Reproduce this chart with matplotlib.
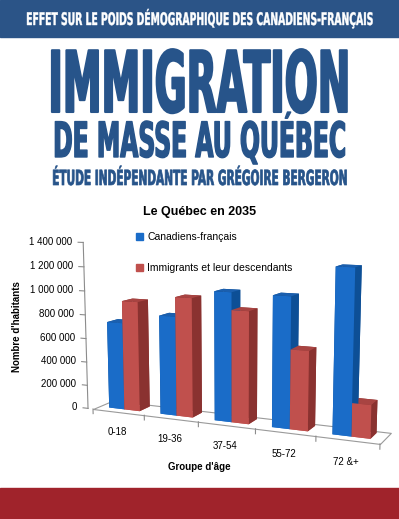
import matplotlib.pyplot as plt
import numpy as np
from matplotlib.patches import Rectangle, Patch
from matplotlib.patheffects import AbstractPathEffect
from matplotlib.transforms import Affine2D
from mpl_toolkits.mplot3d import proj3d
from mpl_toolkits.mplot3d.art3d import Poly3DCollection

# data (perspective corrected)
groups = ['0-18', '19-36', '37-54', '55-72', '72 &+']
canadiens = [735000, 820000, 1045000, 1040000, 1280000]
immigrants = [920000, 980000, 905000, 630000, 260000]
series = ['Canadiens-français', 'Immigrants et leur descendants']
zticks = np.arange(0, 1400001, 200000)

W, H = 399, 519
navy = '#27548a'
# face colours per bar: bottom, top, front, back, left, right
blue_faces = ['#1a6cc8', '#1b5fae', '#1a6cc8', '#0d4f96', '#0d4f96', '#0d4f96']
red_faces = ['#c0504d', '#a84442', '#c0504d', '#8a3230', '#8a3230', '#8a3230']

plt.rcParams['font.family'] = ['Liberation Sans', 'DejaVu Sans']


class Stretch(AbstractPathEffect):
    # stretches a text upwards from its baseline, to mimic a condensed display font
    def __init__(self, sy, lw=0):
        super().__init__()
        self.sy = sy
        self.lw = lw

    def draw_path(self, renderer, gc, tpath, affine, rgbFace=None):
        aff = Affine2D().scale(1, self.sy) + affine
        if self.lw:
            gc0 = renderer.new_gc()
            gc0.copy_properties(gc)
            gc0.set_linewidth(self.lw)
            gc0.set_foreground(rgbFace)
            renderer.draw_path(gc0, tpath, aff, rgbFace)
            gc0.restore()
        else:
            renderer.draw_path(gc, tpath, aff, rgbFace)


fig = plt.figure(figsize=(W / 100, H / 100), dpi=100)

# top and bottom bands
fig.add_artist(Rectangle((0, 1 - 37 / H), 1, 37 / H, transform=fig.transFigure,
                         color='#2b5487', zorder=0))
fig.add_artist(Rectangle((0, 0), 1, 31 / H, transform=fig.transFigure,
                         color='#a0232b', zorder=0))

# headline texts: (text, baseline px, letter size, colour, target width px, stroke)
heads = [
    ('EFFET SUR LE POIDS DÉMOGRAPHIQUE DES CANADIENS-FRANÇAIS', 25, 12.5, 'white', 348, 0.3),
    ('IMMIGRATION', 112, 61, navy, 302, 1.5),
    ('DE MASSE AU QUÉBEC', 157, 35, navy, 293, 1.0),
    ('ÉTUDE INDÉPENDANTE PAR GRÉGOIRE BERGERON', 185, 15, navy, 295, 0.5),
]
htexts = []
for s, base, size, col, target, lw in heads:
    t = fig.text(0.5, 1 - base / H, s, ha='center', va='baseline', fontsize=size,
                 color=col, weight='bold', family='DejaVu Sans')
    htexts.append((t, size, target, lw))

# chart title, axis labels
fig.text(200 / W, 1 - 212 / H, 'Le Québec en 2035', ha='center', va='center',
         fontsize=9, weight='bold')
fig.text(17 / W, 1 - 327 / H, "Nombre d'habitants", ha='center', va='center',
         rotation=90, fontsize=7, weight='bold')
fig.text(199 / W, 1 - 467 / H, "Groupe d'âge", ha='center', va='center',
         fontsize=7, weight='bold')

# 3D column chart
ax = fig.add_axes([30 / W, -0.057, 1.0, W / H], projection='3d',
                  proj_type='persp', focal_length=0.4)
ax.view_init(elev=10, azim=-66)
ax.set_box_aspect((313, 40, 177), zoom=0.84)
x0, x1, depth = -0.5, 4.5, 0.65
ax.set_xlim(x0, x1)
ax.set_ylim(0, depth)
ax.set_zlim(0, zticks[-1])
ax.set_xticks([])
ax.set_yticks([])
ax.set_zticks([])
for a in (ax.xaxis, ax.yaxis, ax.zaxis):
    a.label.set_visible(False)
ax.set_axis_off()
ax.set_facecolor('none')
ax.computed_zorder = False

floor = Poly3DCollection([[(x0, 0, 0), (x1, 0, 0), (x1, depth, 0), (x0, depth, 0)]],
                         facecolor='white', edgecolor='#9a9a9a', linewidth=0.8, zorder=1)
ax.add_collection3d(floor)

xs = np.arange(len(groups))
bw, bd, by = 0.3, 0.35, 0.2
bx = np.concatenate([xs - bw, xs])
vals = np.concatenate([canadiens, immigrants])
cols = blue_faces * len(xs) + red_faces * len(xs)
ax.bar3d(bx, np.full(bx.shape, by), np.zeros(bx.shape), bw, bd, vals,
         color=cols, shade=False, zorder=2)

# value axis on the left, ticks under the front edge
ax_x = x0 - 0.1
ax.plot([ax_x, ax_x], [0, 0], [0, zticks[-1]], color='#8c8c8c', lw=0.8, zorder=3)
for z in zticks:
    ax.plot([ax_x - 0.1, ax_x], [0, 0], [z, z], color='#8c8c8c', lw=0.8, zorder=3)
for b in np.arange(x0, x1 + 0.01, 1):
    ax.plot([b, b], [0, 0], [0, -40000], color='#8c8c8c', lw=0.8, zorder=3)

fig.legend(handles=[Patch(color=blue_faces[0]), Patch(color=red_faces[0])],
           labels=series, loc='upper left', bbox_to_anchor=(136 / W, 1 - 232 / H),
           frameon=False, fontsize=7.5, borderpad=0, borderaxespad=0,
           handlelength=0.7, handleheight=0.7, handletextpad=0.4, labelspacing=2.0)

fig.canvas.draw()

# headline: shrink the font to the original width, then stretch the letters back up
for t, size, target, lw in htexts:
    w = t.get_window_extent().width
    new_size = size * target / w
    t.set_fontsize(new_size)
    t.set_path_effects([Stretch(size / new_size, lw)])


def screen(x, y, z):
    a, b, _ = proj3d.proj_transform(np.array([x]), np.array([y]), np.array([z]), ax.get_proj())
    return ax.transData.transform((a[0], b[0]))


# place the 3D scene: front floor edge from x=93 to x=380, front-left corner at y=409
fl = screen(x0, 0, 0)
fr = screen(x1, 0, 0)
k = (380 - 93) / (fr[0] - fl[0])
bb = ax.get_position()
cx, cy = (bb.x0 + bb.x1) / 2 * W, (bb.y0 + bb.y1) / 2 * H
ncx = 93 - k * (fl[0] - cx)
ncy = (H - 409) - k * (fl[1] - cy)
nw, nh = bb.width * W * k, bb.height * H * k
ax.set_position([(ncx - nw / 2) / W, (ncy - nh / 2) / H, nw / W, nh / H])

# tick labels, put where the projected axis points fall
for z in zticks:
    p = screen(ax_x - 0.22, 0, z)
    fig.text(p[0] / W, p[1] / H, f'{z:,}'.replace(',', ' '), ha='right', va='center',
             fontsize=7)
for i, g in enumerate(groups):
    p = screen(i - 0.02, 0, -175000)
    fig.text(p[0] / W, p[1] / H, g, ha='center', va='center', fontsize=7)

fig.savefig('out.png', dpi=100)
